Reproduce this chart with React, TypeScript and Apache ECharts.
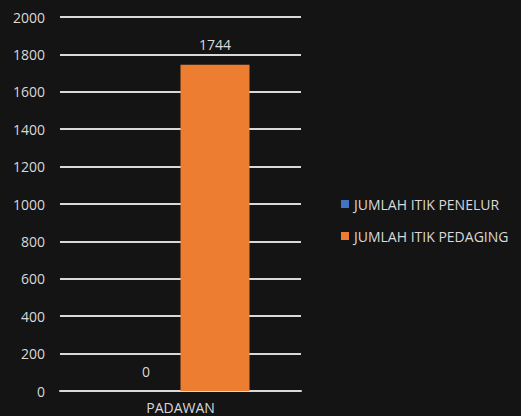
import React, { useEffect, useRef } from "react";
import * as echarts from "echarts";

const categories = ["PADAWAN"];
const seriesNames = ["JUMLAH ITIK PENELUR", "JUMLAH ITIK PEDAGING"];
const penelur = [0];
const pedaging = [1744];
const colors = ["#4472c4", "#ed7d31"];

export default function App() {
  const ref = useRef<HTMLDivElement>(null);
  useEffect(() => {
    document.body.style.margin = "0";
    const chart = echarts.init(ref.current!, null, { renderer: "svg" });
    const font = "'Open Sans', sans-serif";
    const labelStyle = { show: true, position: "top" as const, distance: 13, color: "#d9d9d9", fontSize: 14, fontFamily: font };
    chart.setOption({
      animation: false,
      backgroundColor: "#141414",
      grid: { left: 60, right: 220, top: 17, bottom: 25, containLabel: false },
      legend: {
        orient: "vertical",
        left: 336,
        top: 192,
        itemWidth: 8,
        itemHeight: 8,
        itemGap: 18,
        icon: "rect",
        textStyle: { color: "#d9d9d9", fontSize: 14, fontFamily: font },
        data: seriesNames,
      },
      xAxis: {
        type: "category",
        data: categories,
        axisLine: { show: true, lineStyle: { color: "#d9d9d9", width: 2 } },
        axisTick: { show: false },
        axisLabel: { color: "#d9d9d9", fontSize: 14, fontFamily: font, margin: 9 },
      },
      yAxis: {
        type: "value",
        min: 0,
        max: 2000,
        interval: 200,
        axisLine: { show: false },
        axisTick: { show: false },
        axisLabel: { color: "#d9d9d9", fontSize: 14, fontFamily: font, margin: 15, formatter: (v: number) => String(v) },
        splitLine: { lineStyle: { color: "#d9d9d9", width: 2 } },
      },
      series: [
        { name: seriesNames[0], type: "bar", data: penelur, barWidth: 69, barGap: "0%", itemStyle: { color: colors[0] }, label: labelStyle },
        { name: seriesNames[1], type: "bar", data: pedaging, barWidth: 69, itemStyle: { color: colors[1] }, label: labelStyle },
      ],
    });
    return () => chart.dispose();
  }, []);
  return <div ref={ref} style={{ width: 521, height: 416 }} />;
}
